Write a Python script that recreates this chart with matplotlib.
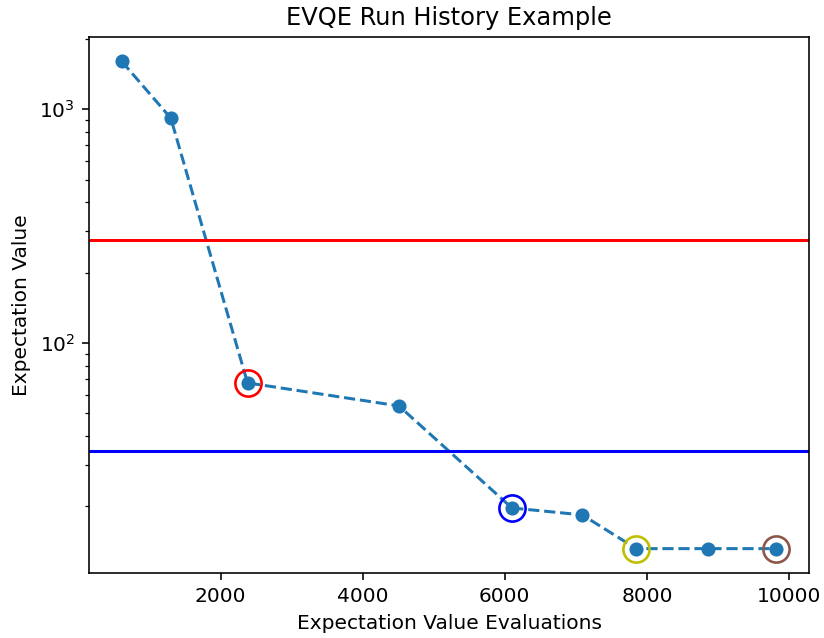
import matplotlib
matplotlib.use("Agg")
import matplotlib.pyplot as plt

# run history: evaluations vs. best expectation value
evaluations = [610, 1300, 2380, 4510, 6100, 7090, 7850, 8860, 9820]
energies = [1600, 915, 67.5, 53.8, 19.7, 18.4, 13.2, 13.2, 13.2]

# reference levels
upper_level = 275
lower_level = 34.5

# highlighted iterations (index into the history) and their ring colours
highlight_idx = [2, 4, 6, 8]
highlight_colors = ["r", "b", "y", "tab:brown"]

fig = plt.figure(figsize=(825 / 145, 638 / 145), dpi=145)
ax = fig.add_axes([0.1079, 0.1019, 0.8727, 0.8401])

ax.plot(evaluations, energies, "o--", color="tab:blue", lw=1.5, ms=6)
ax.axhline(upper_level, color="r", lw=1.5)
ax.axhline(lower_level, color="b", lw=1.5)

for i, c in zip(highlight_idx, highlight_colors):
    ax.plot(evaluations[i], energies[i], "o", ms=13, mfc="none",
            mec=c, mew=1.3)

ax.set_yscale("log")
ax.set_xticks([2000, 4000, 6000, 8000, 10000])
ax.set_title("EVQE Run History Example")
ax.set_xlabel("Expectation Value Evaluations")
ax.set_ylabel("Expectation Value")

fig.savefig("out.png", dpi=145)
